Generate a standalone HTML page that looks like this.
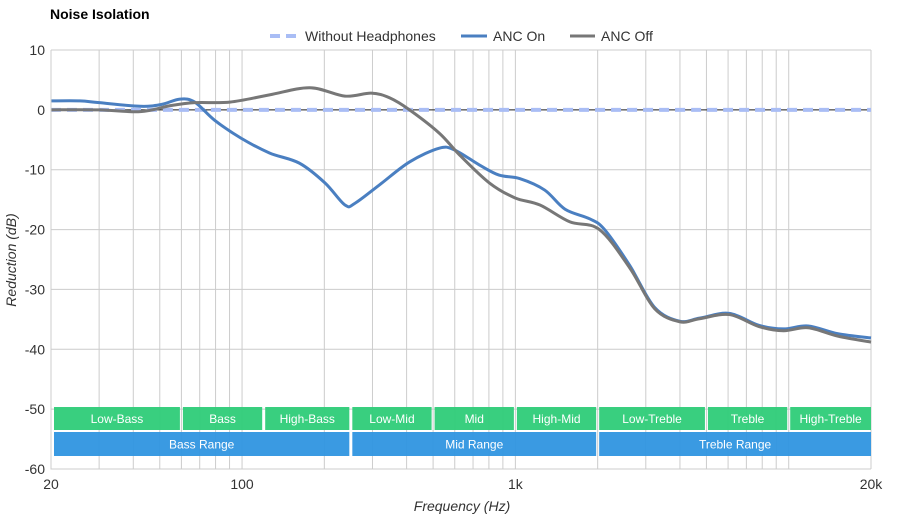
<!DOCTYPE html>
<html><head><meta charset="utf-8"><style>
html,body{margin:0;padding:0;background:#fff;}
svg{display:block;font-family:"Liberation Sans",Arial,sans-serif;}
</style></head><body>
<svg id="chart" width="900" height="520" viewBox="0 0 900 520">
<text x="50" y="19" font-size="14" font-weight="bold" fill="#000">Noise Isolation</text>
<g id="grid"></g>
<g id="bands"></g>
<g id="series"></g>
<g id="axes"></g>
<g font-size="14" fill="#333">
 <g>
  <line x1="270" y1="36" x2="300" y2="36" stroke="#a9bdf5" stroke-width="4" stroke-dasharray="10,6"/>
  <text x="305" y="41" fill="#333">Without Headphones</text></g>
 <g>
  <line x1="461" y1="36" x2="487" y2="36" stroke="#4a7fc1" stroke-width="3"/>
  <text x="493" y="41" fill="#333">ANC On</text></g>
 <g>
  <line x1="570" y1="36" x2="595" y2="36" stroke="#777" stroke-width="3"/>
  <text x="601" y="41" fill="#333">ANC Off</text></g>
</g>
<text x="462" y="511" font-size="14" font-style="italic" fill="#333" text-anchor="middle">Frequency (Hz)</text>
<text transform="translate(16,260) rotate(-90)" font-size="14" font-style="italic" fill="#333" text-anchor="middle">Reduction (dB)</text>
</svg>
<script>
const yTicks=[10,0,-10,-20,-30,-40,-50,-60];
const xTickLabels=[[20,"20"],[100,"100"],[1000,"1k"],[20000,"20k"]];
const gridFreqs=[20,30,40,50,60,70,80,90,100,200,300,400,500,600,700,800,900,1000,2000,3000,4000,5000,6000,7000,8000,9000,10000,20000];
const bandNames=["Low-Bass","Bass","High-Bass","Low-Mid","Mid","High-Mid","Low-Treble","Treble","High-Treble"];
const bandEdges=[20,60,120,250,500,1000,2000,5000,10000,20000];
const rangeNames=["Bass Range","Mid Range","Treble Range"];
const rangeEdges=[20,250,2000,20000];
const freqs=[20,25.5,30,42.4,50.6,59.3,67.1,79.2,98.9,126,162,201,238,259,319,410,527,599,738,871,1040,1280,1520,1870,2120,2620,3230,3990,4720,6060,7780,9570,11770,15140,20000];
const ancOn=[1.5,1.5,1.2,0.6,0.9,1.8,1.3,-1.7,-4.7,-7.2,-8.9,-12.2,-15.9,-15.6,-12.5,-8.7,-6.4,-6.7,-9.2,-10.9,-11.5,-13.4,-16.6,-18.2,-20,-26,-33,-35.3,-34.8,-34,-36,-36.6,-36.1,-37.4,-38.1];
const offFreqs=[20,30,42.4,54.7,67.1,90.3,126,177,238,297,347,410,527,624,803,996,1230,1580,2030,2620,3230,3990,4720,6060,7780,9570,11770,15140,20000];
const ancOff=[0,0,-0.3,0.7,1.2,1.3,2.5,3.7,2.3,2.8,2,0,-3.9,-7.5,-12.2,-14.7,-15.9,-18.7,-20,-26.4,-33.2,-35.4,-34.9,-34.2,-36.2,-36.9,-36.4,-37.8,-38.8];
const refFreqs=[20,20000];
const refVals=[0,0];

const X0=51,X1=871,Y0=50,Y1=469;
const xs=f=>X0+(Math.log10(f)-Math.log10(20))/3*(X1-X0);
const ys=v=>Y0+(10-v)/70*(Y1-Y0);
const NS="http://www.w3.org/2000/svg";
function mk(tag,attrs,parent){const e=document.createElementNS(NS,tag);for(const k in attrs)e.setAttribute(k,attrs[k]);parent.appendChild(e);return e;}
const grid=document.getElementById('grid'),bands=document.getElementById('bands'),series=document.getElementById('series'),axes=document.getElementById('axes');
gridFreqs.forEach(f=>{const l=mk('line',{x1:xs(f),x2:xs(f),y1:Y0,y2:Y1,stroke:'#ccc','stroke-width':1},grid);

});
yTicks.forEach(v=>{const l=mk('line',{x1:X0,x2:X1,y1:ys(v),y2:ys(v),stroke:'#ccc','stroke-width':1},grid);


const t=mk('text',{x:X0-6,y:ys(v)+5,'font-size':14,fill:'#333','text-anchor':'end'},axes);t.textContent=v;

});
xTickLabels.forEach(([f,s])=>{const t=mk('text',{x:xs(f),y:489,'font-size':14,fill:'#333','text-anchor':'middle'},axes);t.textContent=s;

});
function band(names,edges,y,h,color,nm){names.forEach((n,i)=>{const a=Math.max(xs(edges[i])+(i==0?3:1.5),0),b=xs(edges[i+1])-(i==names.length-1?0:1.5);
const g=mk('g',{},bands);


mk('rect',{x:a,y:y,width:b-a,height:h,fill:color,opacity:0.95},g);
const t=mk('text',{x:(a+b)/2,y:y+h/2+4.5,'font-size':12,fill:'#fff','text-anchor':'middle'},g);t.textContent=n;});}
band(bandNames,bandEdges,407,23,'#2ecc78','band');
band(rangeNames,rangeEdges,432,24,'#2f95e0','range');
function path(fs,vs){const p=fs.map((f,i)=>[xs(f),ys(vs[i])]);let d='M'+p[0][0]+','+p[0][1];
for(let i=0;i<p.length-1;i++){const p0=p[i-1]||p[i],p1=p[i],p2=p[i+1],p3=p[i+2]||p2;const t=6;
d+=' C'+(p1[0]+(p2[0]-p0[0])/t)+','+(p1[1]+(p2[1]-p0[1])/t)+' '+(p2[0]-(p3[0]-p1[0])/t)+','+(p2[1]-(p3[1]-p1[1])/t)+' '+p2[0]+','+p2[1];}return d;}
const zl=mk('line',{x1:X0,x2:X1,y1:ys(0),y2:ys(0),stroke:'#222','stroke-width':1},series);


const ref=mk('path',{d:path(refFreqs,refVals),stroke:'#a9bdf5','stroke-width':4,'stroke-dasharray':'10,6',fill:'none'},series);


const on=mk('path',{d:path(freqs,ancOn),stroke:'#4a7fc1','stroke-width':3,fill:'none'},series);


const off=mk('path',{d:path(offFreqs,ancOff),stroke:'#777','stroke-width':3,fill:'none'},series);


const ax=mk('path',{d:`M${X0},${Y0} V${Y1} H${X1}`,stroke:'#ccc','stroke-width':1,fill:'none'},axes);


</script>
</body></html>
